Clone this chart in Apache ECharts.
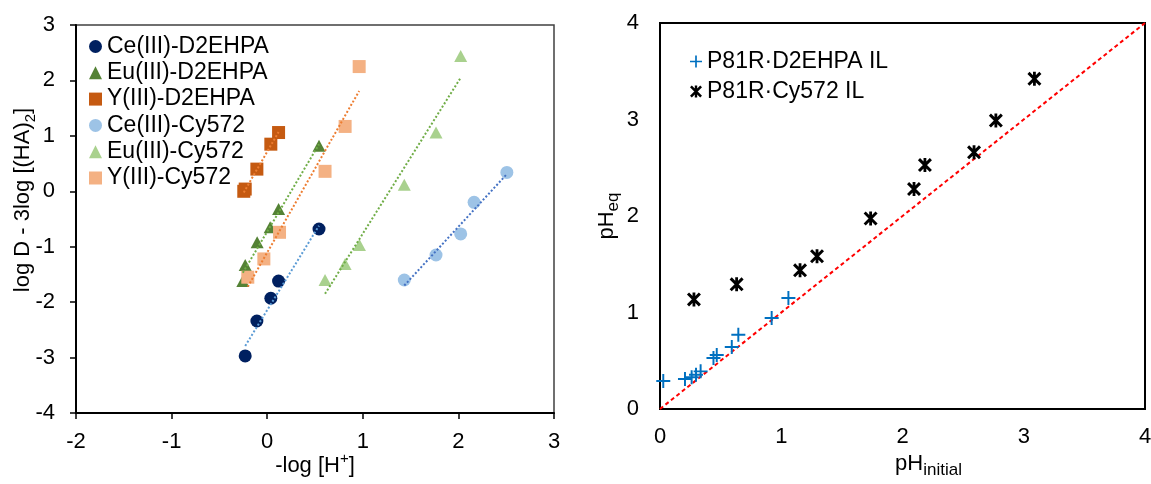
<!DOCTYPE html>
<html>
<head>
<meta charset="utf-8">
<script src="https://cdn.jsdelivr.net/npm/echarts@6/dist/echarts.min.js"></script>
<style>
  html, body { margin: 0; padding: 0; background: #fff; }
  #chart { width: 1151px; height: 484px; }
</style>
</head>
<body>
<div id="chart"></div>
<script>
// left panel: -log[H+] vs log D - 3log[(HA)2]
var ceD2 = [[-0.23, -2.97], [-0.108, -2.34], [0.038, -1.93], [0.119, -1.62], [0.542, -0.68]]
var euD2 = [[-0.255, -1.62], [-0.23, -1.33], [-0.105, -0.92], [0.031, -0.65], [0.119, -0.32], [0.542, 0.82]]
var yD2 = [[-0.245, 0.0], [-0.23, 0.04], [-0.108, 0.40], [0.038, 0.85], [0.119, 1.06]]
var ceCy = [[1.434, -1.60], [1.766, -1.15], [2.024, -0.77], [2.164, -0.20], [2.507, 0.34]]
var euCy = [[0.605, -1.60], [0.815, -1.31], [0.965, -0.97], [1.434, 0.12], [1.766, 1.06], [2.024, 2.44]]
var yCy = [[-0.203, -1.55], [-0.035, -1.22], [0.129, -0.74], [0.605, 0.36], [0.815, 1.17], [0.962, 2.25]]

// trendline end points
var ceD2Fit = [[-0.23, -2.79], [0.542, -0.62]]
var euD2Fit = [[-0.255, -1.47], [0.542, 0.85]]
var yD2Fit = [[-0.245, -0.02], [0.119, 1.07]]
var ceCyFit = [[1.434, -1.70], [2.507, 0.31]]
var euCyFit = [[0.605, -1.85], [2.024, 2.05]]
var yCyFit = [[-0.203, -1.72], [0.962, 1.81]]

// right panel: pH initial vs pH eq
var d2Il = [[0.027, 0.29], [0.206, 0.31], [0.261, 0.33], [0.297, 0.355], [0.335, 0.39], [0.441, 0.528],
            [0.468, 0.56], [0.592, 0.642], [0.646, 0.77], [0.921, 0.943], [1.059, 1.15]]
var cyIl = [[0.28, 1.136], [0.632, 1.292], [1.155, 1.437], [1.295, 1.583], [1.737, 1.974], [2.095, 2.279],
            [2.185, 2.528], [2.59, 2.66], [2.77, 2.989], [3.088, 3.422]]
var parity = [[0, 0], [4, 4]]

var leftNames = ['Ce(III)-D2EHPA', 'Eu(III)-D2EHPA', 'Y(III)-D2EHPA', 'Ce(III)-Cy572', 'Eu(III)-Cy572', 'Y(III)-Cy572']
var rightNames = ['P81R·D2EHPA IL', 'P81R·Cy572 IL']

var FONT = '"Liberation Sans", Arial, sans-serif'
var plusPath = 'path://M4.3,0H5.7V4.3H10V5.7H5.7V10H4.3V5.7H0V4.3H4.3Z'
var starPath = 'path://M4,0H6V10H4Z M0,1.5L1.5,0L10,8.5L8.5,10Z M8.5,0L10,1.5L1.5,10L0,8.5Z'

var rich = {
    sub: { fontSize: 15, lineHeight: 15, verticalAlign: 'bottom', fontFamily: FONT, color: '#000' },
    sup: { fontSize: 15, lineHeight: 15, verticalAlign: 'top', fontFamily: FONT, color: '#000' }
}
var richBig = {
    sub: { fontSize: 17, lineHeight: 17, verticalAlign: 'bottom', fontFamily: FONT, color: '#000' }
}

const pts = (name, data, symbol, size, color) => {
    return {
        name: name, type: 'scatter', xAxisIndex: 0, yAxisIndex: 0,
        symbol: symbol, symbolSize: size, data: data,
        itemStyle: { color: color, opacity: 1 }, z: 3
    }
}

const fit = (name, data, color) => {
    return {
        name: name, type: 'line', xAxisIndex: 0, yAxisIndex: 0, data: data,
        symbol: 'none', silent: true,
        lineStyle: { color: color, width: 2, type: [2, 2] }, z: 4
    }
}

var chart = echarts.init(document.getElementById('chart'), null, { renderer: 'canvas' })

var option = {
    animation: false,
    backgroundColor: '#fff',
    textStyle: { fontFamily: FONT },
    grid: [
        { left: 76, top: 25, width: 478, height: 388, show: true, borderColor: '#404040', borderWidth: 1.5,
          containLabel: false, outerBoundsMode: 'none' },
        { left: 660, top: 23, width: 485, height: 386, show: true, borderColor: '#000', borderWidth: 2,
          containLabel: false, outerBoundsMode: 'none' }
    ],
    legend: [
        {
            data: leftNames, orient: 'vertical', left: 84, top: 30, itemGap: 3.3,
            itemWidth: 13, itemHeight: 13,
            textStyle: { fontSize: 23, lineHeight: 23, color: '#000', fontFamily: FONT }
        },
        {
            data: rightNames, orient: 'vertical', left: 685, top: 45, itemGap: 7,
            itemWidth: 12, itemHeight: 12,
            textStyle: { fontSize: 23, lineHeight: 23, color: '#000', fontFamily: FONT }
        }
    ],
    xAxis: [
        {
            gridIndex: 0, type: 'value', min: -2, max: 3, interval: 1,
            name: '-log [H{sup|+}]', nameLocation: 'middle', nameGap: 38, nameMoveOverlap: false,
            nameTextStyle: { fontSize: 22, lineHeight: 30, color: '#000', fontFamily: FONT, rich: rich },
            axisLine: { show: true, onZero: false, lineStyle: { color: '#000', width: 2 } },
            axisTick: { show: true, inside: false, length: 6, lineStyle: { color: '#000', width: 1.5 } },
            axisLabel: { fontSize: 22, color: '#000', margin: 18, fontFamily: FONT },
            splitLine: { show: false }
        },
        {
            gridIndex: 1, type: 'value', min: 0, max: 4, interval: 1,
            name: 'pH{sub|initial}', nameLocation: 'middle', nameGap: 40, nameMoveOverlap: false,
            nameTextStyle: { fontSize: 22, lineHeight: 30, color: '#000', fontFamily: FONT, rich: richBig,
                padding: [0, 0, 0, 52] },
            axisLine: { show: true, onZero: false, lineStyle: { color: '#000', width: 2 } },
            axisTick: { show: false },
            axisLabel: { fontSize: 22, color: '#000', margin: 17, fontFamily: FONT },
            splitLine: { show: false }
        }
    ],
    yAxis: [
        {
            gridIndex: 0, type: 'value', min: -4, max: 3, interval: 1,
            name: 'log D - 3log [(HA){sub|2}]', nameLocation: 'middle', nameGap: 38, nameRotate: 90,
            nameMoveOverlap: false,
            nameTextStyle: { fontSize: 22, lineHeight: 30, color: '#000', fontFamily: FONT, rich: rich, padding: [0, 0, 0, 38] },
            axisLine: { show: true, onZero: false, lineStyle: { color: '#000', width: 2 } },
            axisTick: { show: true, inside: false, length: 6, lineStyle: { color: '#000', width: 1.5 } },
            axisLabel: { fontSize: 22, color: '#000', margin: 21, fontFamily: FONT },
            splitLine: { show: false }
        },
        {
            gridIndex: 1, type: 'value', min: 0, max: 4, interval: 1,
            name: 'pH{sub|eq}', nameLocation: 'middle', nameGap: 38, nameRotate: 90, nameMoveOverlap: false,
            nameTextStyle: { fontSize: 22, lineHeight: 30, color: '#000', fontFamily: FONT, rich: richBig },
            axisLine: { show: true, onZero: false, lineStyle: { color: '#000', width: 2 } },
            axisTick: { show: false },
            axisLabel: { fontSize: 22, color: '#000', margin: 21, fontFamily: FONT },
            splitLine: { show: false }
        }
    ],
    series: [
        pts(leftNames[0], ceD2, 'circle', 13, '#002060'),
        pts(leftNames[1], euD2, 'triangle', [13, 12], '#548235'),
        pts(leftNames[2], yD2, 'rect', 13, '#C55A11'),
        pts(leftNames[3], ceCy, 'circle', 13, '#9DC3E6'),
        pts(leftNames[4], euCy, 'triangle', [13, 12], '#A9D18E'),
        pts(leftNames[5], yCy, 'rect', 13, '#F4B183'),
        fit('fit-ce-d2', ceD2Fit, '#5B9BD5'),
        fit('fit-eu-d2', euD2Fit, '#70AD47'),
        fit('fit-y-d2', yD2Fit, '#ED7D31'),
        fit('fit-ce-cy', ceCyFit, '#4472C4'),
        fit('fit-eu-cy', euCyFit, '#70AD47'),
        fit('fit-y-cy', yCyFit, '#ED7D31'),
        {
            name: 'parity', type: 'line', xAxisIndex: 1, yAxisIndex: 1, data: parity,
            symbol: 'none', silent: true,
            lineStyle: { color: '#FF0000', width: 2, type: [4, 3] }, z: 2
        },
        {
            name: rightNames[0], type: 'scatter', xAxisIndex: 1, yAxisIndex: 1,
            symbol: plusPath, symbolSize: 14, data: d2Il,
            itemStyle: { color: '#0070C0', opacity: 1 }, z: 3
        },
        {
            name: rightNames[1], type: 'scatter', xAxisIndex: 1, yAxisIndex: 1,
            symbol: starPath, symbolSize: 14, data: cyIl,
            itemStyle: { color: '#000', opacity: 1 }, z: 3
        }
    ]
}

chart.setOption(option)
</script>
</body>
</html>
